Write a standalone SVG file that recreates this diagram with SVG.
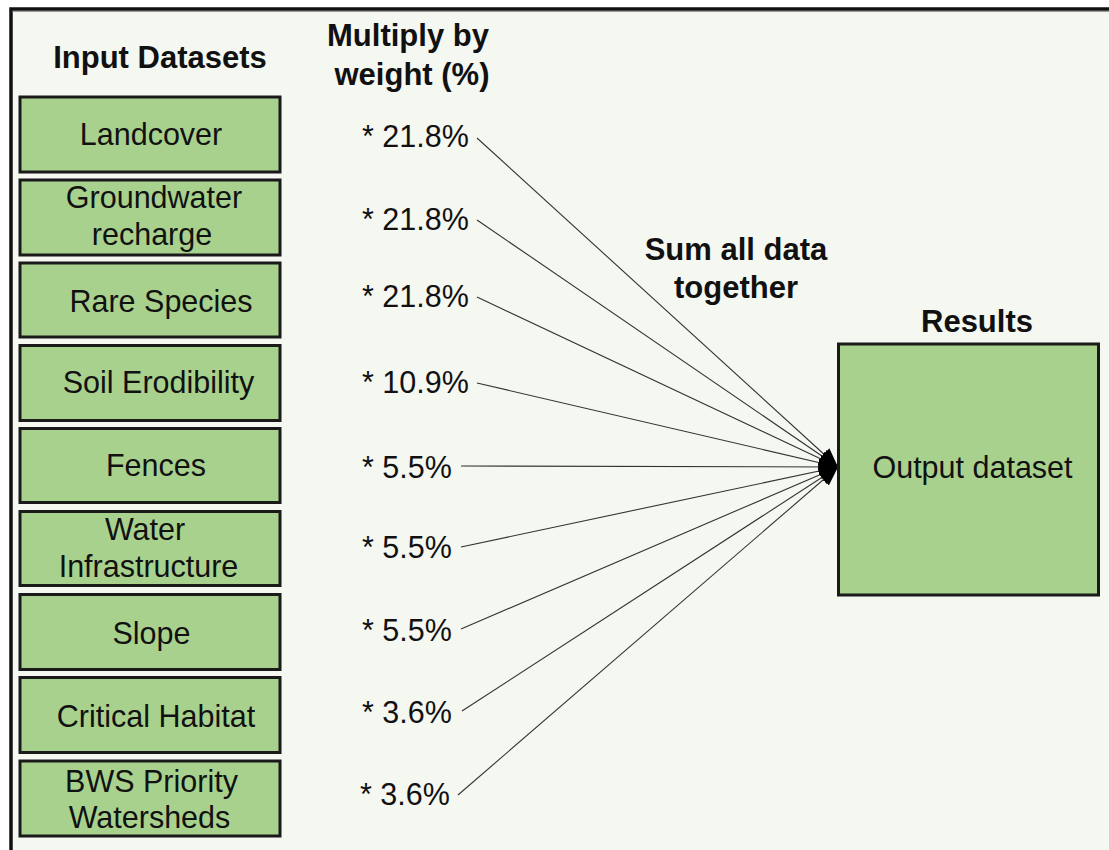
<svg xmlns="http://www.w3.org/2000/svg" width="1109" height="850" viewBox="0 0 1109 850">
<style>
text{font-family:"Liberation Sans",Arial,sans-serif;fill:#111;}
.h{font-size:31px;font-weight:bold;text-anchor:middle;}
.t{font-size:30.5px;text-anchor:middle;}
.p{font-size:30.5px;}
.box{fill:#a9d18e;stroke:#1a1a1a;stroke-width:3;}
.c{stroke:#333;stroke-width:1.1;fill:none;marker-end:url(#ah);}
</style>
<defs>
<marker id="ah" markerUnits="userSpaceOnUse" markerWidth="24" markerHeight="22" refX="19" refY="11" orient="auto">
<path d="M0,3 L19,11 L0,19 Z" fill="#000"/>
</marker>
</defs>
<rect x="0" y="0" width="1109" height="850" fill="#ffffff"/>
<rect x="11" y="9" width="1110" height="860" fill="#f5f7f1" stroke="#111" stroke-width="3.5"/>
<line x1="12.5" y1="11.5" x2="1109" y2="11.5" stroke="#999" stroke-width="1"/>

<text class="h" x="160" y="68">Input Datasets</text>
<text class="h" x="408" y="46">Multiply by</text>
<text class="h" x="412" y="85">weight (%)</text>
<text class="h" x="736" y="260">Sum all data</text>
<text class="h" x="736" y="298">together</text>
<text class="h" x="977" y="332">Results</text>

<g id="connectors">
<line class="c" x1="477" y1="138" x2="838" y2="467"/>
<line class="c" x1="477" y1="220" x2="838" y2="467"/>
<line class="c" x1="477" y1="297" x2="838" y2="467"/>
<line class="c" x1="477" y1="383" x2="838" y2="467"/>
<line class="c" x1="461" y1="466" x2="838" y2="467"/>
<line class="c" x1="461" y1="547" x2="838" y2="467"/>
<line class="c" x1="461" y1="629" x2="838" y2="467"/>
<line class="c" x1="462" y1="711" x2="838" y2="467"/>
<line class="c" x1="458" y1="795" x2="838" y2="467"/>
</g>

<g id="weights">
<text class="p" x="362" y="147">* 21.8%</text>
<text class="p" x="362" y="230">* 21.8%</text>
<text class="p" x="362" y="307">* 21.8%</text>
<text class="p" x="362" y="393">* 10.9%</text>
<text class="p" x="362" y="478">* 5.5%</text>
<text class="p" x="362" y="558">* 5.5%</text>
<text class="p" x="362" y="641">* 5.5%</text>
<text class="p" x="362" y="723">* 3.6%</text>
<text class="p" x="360" y="805">* 3.6%</text>
</g>

<g id="n-landcover"><rect class="box" x="20" y="97" width="260" height="75"/><text class="t" x="151" y="145">Landcover</text></g>
<g id="n-groundwater"><rect class="box" x="20" y="180" width="260" height="75"/><text class="t" x="154" y="208">Groundwater</text><text class="t" x="152" y="245">recharge</text></g>
<g id="n-rare"><rect class="box" x="20" y="263" width="260" height="74"/><text class="t" x="161" y="312">Rare Species</text></g>
<g id="n-soil"><rect class="box" x="20" y="345.5" width="260" height="75"/><text class="t" x="158.5" y="393">Soil Erodibility</text></g>
<g id="n-fences"><rect class="box" x="20" y="428.5" width="260" height="74"/><text class="t" x="156" y="476">Fences</text></g>
<g id="n-water"><rect class="box" x="20" y="511.5" width="260" height="74"/><text class="t" x="145" y="540">Water</text><text class="t" x="148.5" y="577">Infrastructure</text></g>
<g id="n-slope"><rect class="box" x="20" y="594.5" width="260" height="75"/><text class="t" x="151.5" y="644">Slope</text></g>
<g id="n-critical"><rect class="box" x="20" y="677.5" width="260" height="75"/><text class="t" x="156" y="727">Critical Habitat</text></g>
<g id="n-bws"><rect class="box" x="20" y="761" width="260" height="75"/><text class="t" x="151.5" y="792">BWS Priority</text><text class="t" x="149.5" y="828">Watersheds</text></g>

<g id="n-output"><rect class="box" x="838.5" y="344" width="260" height="251"/><text class="t" x="972.5" y="478">Output dataset</text></g>
</svg>
